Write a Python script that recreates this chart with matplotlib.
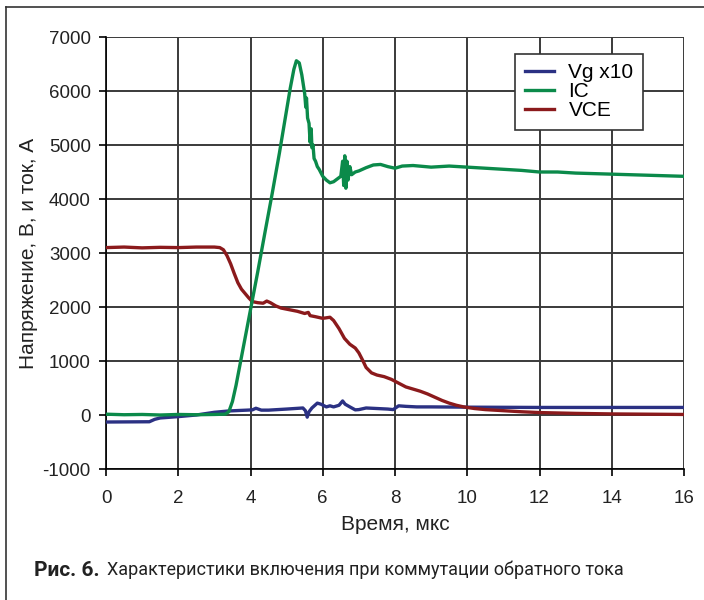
import matplotlib.pyplot as plt
from matplotlib.lines import Line2D

vg_t = [0, 1.2, 1.35, 1.5, 2.0, 2.5, 3.0, 3.4, 3.9, 4.05, 4.15, 4.3, 4.5, 5.0, 5.45, 5.52,
        5.57, 5.62, 5.7, 5.85, 5.95, 6.1, 6.2, 6.3, 6.45, 6.55, 6.62, 6.75, 6.9, 7.0, 7.2,
        7.5, 7.8, 7.95, 8.1, 8.3, 8.6, 9.0, 10, 12, 14, 16]
vg_v = [-130, -125, -80, -55, -30, 0, 50, 75, 90, 95, 125, 90, 90, 110, 130, 80,
        -40, 60, 130, 220, 200, 150, 170, 150, 180, 260, 200, 150, 95, 100, 130,
        120, 110, 100, 170, 160, 150, 150, 145, 140, 140, 140]

ic_t = [0, 0.5, 1, 1.5, 2, 2.5, 3, 3.3, 3.4, 3.5, 3.6, 3.7, 3.8, 3.9, 4.0, 4.2, 4.4, 4.6,
        4.8, 4.9, 5.0, 5.1, 5.2, 5.27, 5.35, 5.42, 5.5, 5.53, 5.55, 5.58, 5.62, 5.65, 5.68,
        5.7, 5.73, 5.76, 5.8, 5.85, 5.9, 6.0, 6.1, 6.2, 6.3, 6.4, 6.5, 6.55, 6.58, 6.61,
        6.64, 6.67, 6.7, 6.75, 6.8, 6.9, 7.0, 7.2, 7.4, 7.6, 7.8, 8.0, 8.2, 8.5, 9.0, 9.5,
        10, 10.5, 11, 11.5, 12, 12.5, 13, 13.5, 14, 14.5, 15, 15.5, 16]
ic_v = [15, 5, 10, 0, 10, 5, 10, 15, 60, 250, 550, 900, 1250, 1600, 1950, 2650, 3380, 4100,
        4850, 5250, 5650, 6050, 6400, 6560, 6520, 6300, 5950, 5700, 5870, 5500, 5400, 5050, 5300,
        4950, 5000, 4750, 4700, 4600, 4550, 4420, 4350, 4300, 4320, 4370, 4420, 4700, 4250, 4800,
        4200, 4700, 4350, 4600, 4450, 4500, 4520, 4580, 4630, 4640, 4600, 4570, 4610, 4620, 4590, 4610,
        4590, 4570, 4550, 4530, 4500, 4500, 4480, 4470, 4460, 4450, 4440, 4430, 4420]

vce_t = [0, 0.5, 1, 1.5, 2, 2.5, 3.0, 3.15, 3.25, 3.35, 3.45, 3.55, 3.65, 3.75, 3.85, 3.95,
         4.05, 4.2, 4.35, 4.45, 4.55, 4.7, 4.85, 5.0, 5.3, 5.5, 5.6, 5.65, 5.8, 6.0, 6.1, 6.2,
         6.3, 6.45, 6.6, 6.75, 6.9, 7.0, 7.1, 7.2, 7.35, 7.5, 7.7, 7.9, 8.1, 8.3, 8.5, 8.7,
         8.9, 9.1, 9.3, 9.5, 9.7, 9.9, 10.2, 10.5, 11, 11.5, 12, 13, 14, 15, 16]
vce_v = [3100, 3110, 3095, 3105, 3100, 3110, 3110, 3100, 3060, 2950, 2800, 2620, 2450, 2330, 2250, 2170,
         2100, 2080, 2070, 2110, 2080, 2020, 1980, 1960, 1920, 1880, 1900, 1840, 1820, 1790, 1800, 1810,
         1750, 1600, 1420, 1310, 1240, 1150, 1020, 880, 780, 740, 710, 660, 590, 520, 480, 440,
         390, 330, 270, 220, 180, 150, 120, 100, 80, 60, 45, 30, 20, 15, 10]

x_ticks = [0, 2, 4, 6, 8, 10, 12, 14, 16]
y_ticks = [-1000, 0, 1000, 2000, 3000, 4000, 5000, 6000, 7000]

plt.rcParams['font.family'] = ['Liberation Sans', 'DejaVu Sans']
plt.rcParams['axes.unicode_minus'] = False

fig = plt.figure(figsize=(7.04, 6.0), dpi=100)
ax = fig.add_axes([106 / 704, 1 - 469 / 600, 578 / 704, 432 / 600])

ax.plot(vg_t, vg_v, color='#2b3183', lw=2.4, label='Vg x10', zorder=3)
ax.plot(ic_t, ic_v, color='#0b8a4a', lw=2.4, label='IC', zorder=4)
ax.plot(vce_t, vce_v, color='#8b1a1c', lw=2.4, label='VCE', zorder=3)

ax.set_xlim(0, 16)
ax.set_ylim(-1000, 7000)
ax.set_xticks(x_ticks)
ax.set_yticks(y_ticks)
ax.grid(True, color='#3a3a3a', lw=1.4)
ax.set_axisbelow(True)
for s in ['top', 'right']:
    ax.spines[s].set_visible(False)
for s in ['left', 'bottom']:
    ax.spines[s].set_linewidth(1.2)
ax.tick_params(direction='out', length=5, width=1.2, labelsize=13.5,
               labelcolor='#222222')
ax.tick_params(axis='x', pad=10)
ax.tick_params(axis='y', pad=6)

ax.set_xlabel('Время, мкс', fontsize=15, color='#222222', labelpad=6)
ax.set_ylabel('Напряжение, В, и ток, А', fontsize=15, color='#222222', labelpad=3)

leg = ax.legend(loc='upper right', bbox_to_anchor=(0.929, 0.9606), fontsize=15,
                fancybox=False, framealpha=1, edgecolor='#333333', handlelength=1.4,
                handletextpad=0.7, labelspacing=0.0, borderpad=0.45, borderaxespad=0)
leg.get_frame().set_linewidth(1.2)

# Рамка рисунка
fig.add_artist(Line2D([6 / 704, 6 / 704], [0, 1 - 7 / 600], color='#333333', lw=1.2))
fig.add_artist(Line2D([6 / 704, 1], [1 - 7 / 600, 1 - 7 / 600], color='#333333', lw=1.2))

# Подпись
cap_font = ['Roboto', 'DejaVu Sans']
fig.text(34 / 704, 1 - 570 / 600, 'Рис. 6.', fontsize=15, fontweight='bold',
         family=cap_font, va='center', color='#222222')
fig.text(107 / 704, 1 - 570 / 600, 'Характеристики включения при коммутации обратного тока',
         fontsize=13, family=cap_font, va='center', color='#222222')

fig.savefig('out.png', dpi=100)
